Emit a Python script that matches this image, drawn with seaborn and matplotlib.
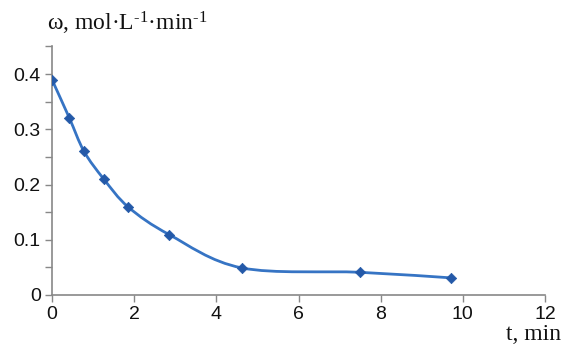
import numpy as np
import pandas as pd
import matplotlib
matplotlib.use("Agg")
import matplotlib.pyplot as plt
from matplotlib.path import Path
from matplotlib.patches import PathPatch
from matplotlib.ticker import MultipleLocator
import seaborn as sns

# data
t_min = [0.0, 0.42, 0.78, 1.26, 1.86, 2.86, 4.62, 7.5, 9.7]
omega = [0.390, 0.321, 0.260, 0.210, 0.159, 0.109, 0.049, 0.041, 0.031]
x_ticks = [0, 2, 4, 6, 8, 10, 12]
y_ticks = [0, 0.1, 0.2, 0.3, 0.4]
y_tick_labels = ["0", "0.1", "0.2", "0.3", "0.4"]
x_label = "t, min"
y_label = r"ω, mol·L$^{\text{-1}}$·min$^{\text{-1}}$"

sns.set_theme(style="ticks")
plt.rcParams["font.family"] = ["Liberation Sans", "DejaVu Sans"]
plt.rcParams["mathtext.fontset"] = "custom"
plt.rcParams["mathtext.rm"] = "Liberation Serif"
plt.rcParams["mathtext.it"] = "Liberation Serif:italic"

fig = plt.figure(figsize=(5.62, 3.47), dpi=100)
ax = fig.add_axes([0.0925, 0.150, 0.8773, 0.716])

df = pd.DataFrame({"t": t_min, "w": omega})
ax.set_xlim(0, 12)
ax.set_ylim(0, 0.45)

line_color = "#3674C4"
marker_color = "#2459A8"

# smooth (Catmull-Rom style) curve computed in display space
pts = ax.transData.transform(np.column_stack([t_min, omega]))
n = len(pts)
verts = [pts[0]]
codes = [Path.MOVETO]
for i in range(n - 1):
    p0 = pts[i - 1] if i > 0 else pts[i]
    p1 = pts[i]
    p2 = pts[i + 1]
    p3 = pts[i + 2] if i + 2 < n else pts[i + 1]
    c1 = p1 + (p2 - p0) / 6.0
    c2 = p2 - (p3 - p1) / 6.0
    verts += [c1, c2, p2]
    codes += [Path.CURVE4] * 3
verts_data = ax.transData.inverted().transform(np.array(verts))
patch = PathPatch(Path(verts_data, codes), facecolor="none",
                  edgecolor=line_color, lw=2.0, zorder=2)
ax.add_patch(patch)

sns.scatterplot(data=df, x="t", y="w", marker="D", s=28, color=marker_color,
                edgecolor=marker_color, linewidth=0.5, ax=ax, zorder=3, legend=False)

ax.set_xticks(x_ticks)
ax.set_yticks(y_ticks)
ax.set_yticklabels(y_tick_labels)
ax.yaxis.set_minor_locator(MultipleLocator(0.05))
ax.tick_params(axis="both", which="both", direction="out", length=5, width=1,
               color="#888888", labelsize=14, labelcolor="#111111", pad=3)
ax.tick_params(axis="y", which="minor", length=5)

for side in ["top", "right"]:
    ax.spines[side].set_visible(False)
for side in ["left", "bottom"]:
    ax.spines[side].set_color("#888888")
    ax.spines[side].set_linewidth(1.2)

ax.set_xlabel("")
ax.set_ylabel("")

fig.text(47 / 562, 1 - 23 / 347, y_label, fontsize=17,
         family=["Liberation Serif", "DejaVu Serif"], ha="left", va="center", color="#111111")
fig.text(561 / 562, 1 - 335 / 347, x_label, fontsize=17,
         family=["Liberation Serif", "DejaVu Serif"], ha="right", va="center", color="#111111")

fig.savefig("out.png", dpi=100)
